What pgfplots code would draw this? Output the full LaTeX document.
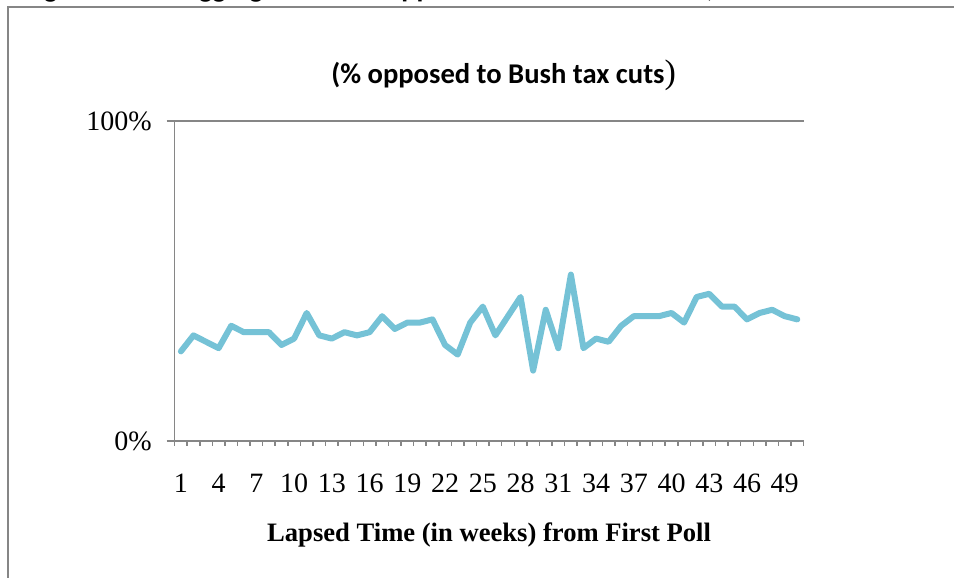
\documentclass[border=0pt]{standalone}
\usepackage{fontspec}
\setmainfont{Liberation Serif}
\newfontfamily\calibri{Carlito}
\usepackage{pgfplots}
\usepackage{pgfplotstable}
\pgfplotsset{compat=1.18}
\definecolor{axisgray}{RGB}{134,134,134}
\definecolor{seriesblue}{RGB}{117,194,214}

% share of respondents opposed, by week since the first poll
\pgfplotstableread{
week pct
1 28
2 33
3 31
4 29
5 36
6 34
7 34
8 34
9 30
10 32
11 40
12 33
13 32
14 34
15 33
16 34
17 39
18 35
19 37
20 37
21 38
22 30
23 27
24 37
25 42
26 33
27 39
28 45
29 22
30 41
31 29
32 52
33 29
34 32
35 31
36 36
37 39
38 39
39 39
40 40
41 37
42 45
43 46
44 42
45 42
46 38
47 40
48 41
49 39
50 38
}\opposed

\begin{document}
\begin{tikzpicture}[x=0.5bp,y=0.5bp]
\useasboundingbox (0,0) rectangle (954,578);
\begin{scope}
  \clip (0,0) rectangle (954,578);
  % frame round the chart
  \draw[axisgray, line width=0.75bp] (8,-20) -- (8,571) -- (980,571);
  % figure caption running above the frame
  \node[anchor=base west, inner sep=0pt, font=\calibri\bfseries\fontsize{14bp}{16bp}\selectfont]
    at (24,580) {Figure 1: The Aggregate Public Opposition to Bush Tax Cuts,};
\end{scope}
% chart title
\node[anchor=base west, inner sep=0pt] at (331,494)
  {\calibri\bfseries\fontsize{14.3bp}{16bp}\selectfont (\% opposed to Bush tax cuts\rmfamily\mdseries\fontsize{17bp}{19bp}\selectfont)};
\begin{axis}[
  at={(87.3bp,68.5bp)}, anchor=south west,
  scale only axis, width=314.5bp, height=160bp,
  xmin=0.5, xmax=50.5, ymin=0, ymax=100,
  axis x line*=bottom, axis y line*=left,
  axis line style={axisgray, line width=0.75bp},
  xtick={1,4,...,49},
  minor xtick={0.5,1.5,...,50.5},
  ytick={0,100}, yticklabels={0\%,100\%},
  tick align=outside,
  major tick length=4bp, minor tick length=2.5bp,
  tick style={axisgray, line width=0.75bp},
  major x tick style={draw=none},
  ymajorgrids, major grid style={axisgray, line width=0.75bp},
  ticklabel style={font=\fontsize{14bp}{16bp}\selectfont},
  /pgf/number format/assume math mode=true,
  yticklabel style={anchor=east, inner sep=0pt, xshift=-7.3bp},
  xticklabel style={anchor=base, inner sep=0pt, yshift=-21.8bp},
  xlabel={Lapsed Time (in weeks) from First Poll},
  xlabel style={at={(axis description cs:0.5,0)}, anchor=base, inner sep=0pt, yshift=-50.5bp,
    font=\bfseries\fontsize{13.3bp}{15bp}\selectfont},
  clip=false,
]
\addplot[seriesblue, line width=3bp, line join=round, line cap=round]
  table[x=week, y=pct] {\opposed};
\end{axis}
\end{tikzpicture}
\end{document}
